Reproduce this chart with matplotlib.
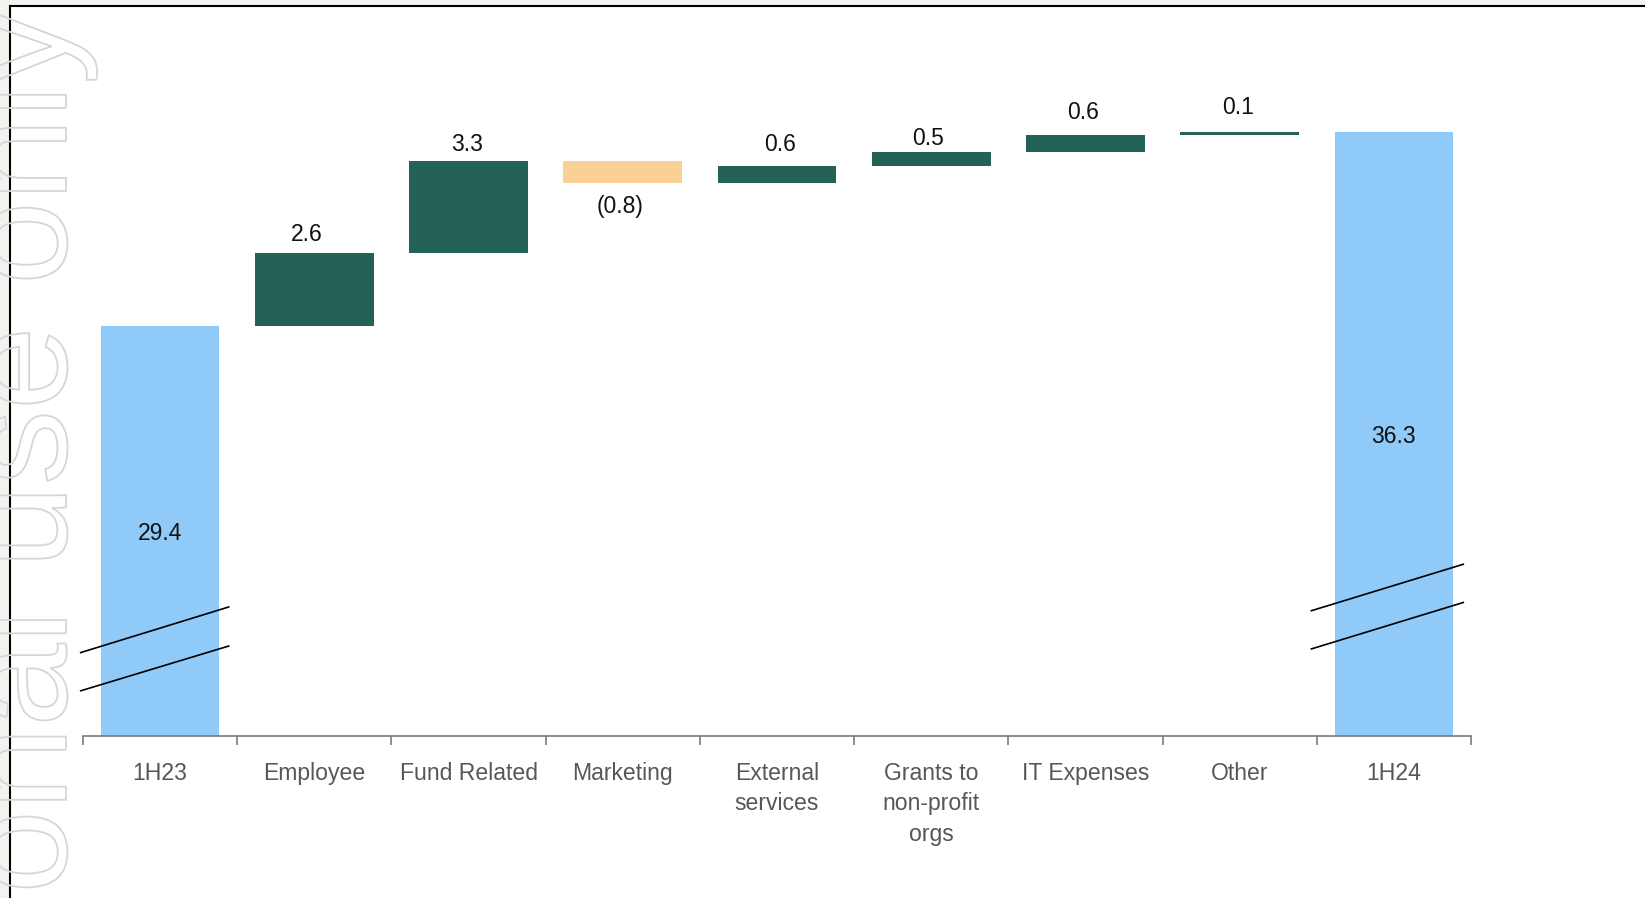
import matplotlib
matplotlib.use("Agg")
import matplotlib.pyplot as plt
from matplotlib.patches import Rectangle, PathPatch
from matplotlib.lines import Line2D
from matplotlib.textpath import TextPath
from matplotlib.font_manager import FontProperties
from matplotlib.transforms import Affine2D, IdentityTransform

# ---- data -------------------------------------------------------------
categories = ["1H23", "Employee", "Fund Related", "Marketing", "External\nservices",
              "Grants to\nnon-profit\norgs", "IT Expenses", "Other", "1H24"]
start_value = 29.4
changes = [2.6, 3.3, -0.8, 0.6, 0.5, 0.6, 0.1]
end_value = 36.3
change_labels = ["2.6", "3.3", "(0.8)", "0.6", "0.5", "0.6", "0.1"]
total_labels = ["29.4", "36.3"]

# ---- style ------------------------------------------------------------
BLUE = "#90caf8"
GREEN = "#246257"
ORANGE = "#f9d195"
AXIS_GREY = "#7a7a7a"
LABEL_GREY = "#575757"
FONT = "Liberation Sans"
VAL_SIZE = 16.5

W, H, DPI = 1645, 898, 100
Y_MIN, Y_MAX = 14.82, 40.3
# hand-placed nudges of the step labels (pixels: along x, gap from bar edge)
label_dx_px = [-8, -2, -3, 3, -3, -2, -2]
label_gap_px = [12.6, 9.3, 12.0, 15.0, 7.4, 16.0, 18.6]

fig = plt.figure(figsize=(W / DPI, H / DPI), dpi=DPI)
fig.patch.set_facecolor("#f2f2ee")

# white page with a black frame on the left and top
fig.add_artist(Rectangle((10, 0), W - 10, H - 6, transform=IdentityTransform(),
                         facecolor="white", edgecolor="none", zorder=-10))
fig.add_artist(Line2D([10, 10], [0, H - 6], transform=IdentityTransform(),
                      color="black", lw=1.5, zorder=-5))
fig.add_artist(Line2D([10, W], [H - 6, H - 6], transform=IdentityTransform(),
                      color="black", lw=1.5, zorder=-5))

ax = fig.add_axes([83 / W, (H - 736) / H, (1471 - 83) / W, (736 - 20) / H])
ax.patch.set_visible(False)
ax.set_xlim(-0.5, len(categories) - 0.5)
ax.set_ylim(Y_MIN, Y_MAX)

bar_w = 0.77
x = list(range(len(categories)))

# totals
ax.bar(x[0], start_value, width=bar_w, color=BLUE, zorder=2)
ax.bar(x[-1], end_value, width=bar_w, color=BLUE, zorder=2)

# floating steps
running = start_value
for i, (d, lab, dx, gap) in enumerate(zip(changes, change_labels, label_dx_px, label_gap_px),
                                      start=1):
    lo, hi = (running, running + d) if d >= 0 else (running + d, running)
    ax.bar(x[i], hi - lo, bottom=lo, width=bar_w,
           color=GREEN if d >= 0 else ORANGE, zorder=2)
    if d >= 0:
        ax.annotate(lab, (x[i], hi), xytext=(dx * 72 / DPI, gap * 72 / DPI),
                    textcoords="offset points", ha="center", va="baseline",
                    fontsize=VAL_SIZE, family=FONT, color="#111111")
    else:
        ax.annotate(lab, (x[i], lo), xytext=(dx * 72 / DPI, -gap * 72 / DPI),
                    textcoords="offset points", ha="center", va="top",
                    fontsize=VAL_SIZE, family=FONT, color="#111111")
    running += d

# total labels sit midway up the visible bar
for xi, val, lab in zip([x[0], x[-1]], [start_value, end_value], total_labels):
    ax.text(xi, (Y_MIN + val) / 2, lab, ha="center", va="center_baseline",
            fontsize=VAL_SIZE, family=FONT, color="#111111", zorder=3)

# axis-break marks on the total bars
breaks = [
    (x[0], [(-0.52, 17.78, 0.45, 19.42), (-0.52, 16.42, 0.45, 18.03)]),
    (x[-1], [(-0.54, 19.27, 0.455, 20.94), (-0.54, 17.91, 0.455, 19.58)]),
]
for xc, segs in breaks:
    for x0, y0, x1, y1 in segs:
        ax.plot([xc + x0, xc + x1], [y0, y1], color="black", lw=1.2,
                solid_capstyle="butt", zorder=4, clip_on=False)

# axes styling
for side in ("top", "right", "left"):
    ax.spines[side].set_visible(False)
ax.spines["bottom"].set_color(AXIS_GREY)
ax.spines["bottom"].set_linewidth(1.2)
ax.set_yticks([])
ax.set_xticks(x)
ax.set_xticklabels(categories, fontsize=16.6, family=FONT, color=LABEL_GREY,
                   linespacing=1.43)
ax.set_xticks([i - 0.5 for i in range(len(categories) + 1)], minor=True)
ax.tick_params(axis="x", which="major", length=0, pad=18.5)
ax.tick_params(axis="x", which="minor", length=6.5, width=1.2, color=AXIS_GREY, direction="out")

# outlined watermark running up the left edge
tp = TextPath((0, 0), "For personal use only", size=150, prop=FontProperties(family=FONT))
L = tp.get_extents().x1
wm = PathPatch(tp, transform=Affine2D().rotate_deg(90).translate(66, H - 10 - L),
               facecolor="none", edgecolor="#d6d6d6", lw=1.3, zorder=10)
fig.add_artist(wm)

fig.savefig("out.png", dpi=DPI)
